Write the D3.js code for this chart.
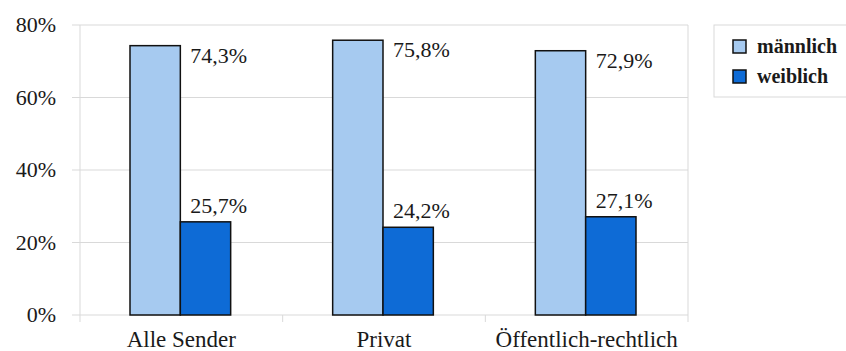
<!DOCTYPE html>
<html>
<head>
<meta charset="utf-8">
<script src="https://cdn.jsdelivr.net/npm/d3@7"></script>
<style>
  body { margin: 0; background: #fff; }
  svg { display: block; font-family: "Liberation Serif", "Times New Roman", serif; }
</style>
</head>
<body>
<svg id="chart" width="846" height="351"></svg>
<script>
// chart data
const categories = ["Alle Sender", "Privat", "Öffentlich-rechtlich"];
const series = ["männlich", "weiblich"];
const maleValues = [74.3, 75.8, 72.9];
const femaleValues = [25.7, 24.2, 27.1];
const yTicks = [0, 20, 40, 60, 80];
const colors = ["#a6caf0", "#0e6bd6"];

const svg = d3.select("#chart");
const margin = { top: 25, left: 80, right: 158, bottom: 36 };
const width = 846 - margin.left - margin.right;
const height = 351 - margin.top - margin.bottom;

const g = svg.append("g").attr("transform", `translate(${margin.left},${margin.top})`);

const x0 = d3.scaleBand().domain(categories).range([0, width]);
const x1 = d3.scaleBand().domain(series).range([50, x0.bandwidth() - 52]);
const y = d3.scaleLinear().domain([0, 80]).range([height, 0]);

// grid lines
g.append("g")
    .selectAll("line")
    .data(yTicks)
    .join("line")
    .attr("x1", -8)
    .attr("x2", width)
    .attr("y1", (d) => y(d))
    .attr("y2", (d) => y(d))
    .attr("stroke", "#d9d9d9")
    .attr("stroke-width", 1);

// vertical frame lines
g.append("line").attr("x1", 0).attr("x2", 0).attr("y1", 0).attr("y2", height).attr("stroke", "#d9d9d9");
g.append("line").attr("x1", width).attr("x2", width).attr("y1", 0).attr("y2", height + 7).attr("stroke", "#d9d9d9");

// category ticks
g.append("g")
    .selectAll("line")
    .data(categories)
    .join("line")
    .attr("x1", (d) => x0(d))
    .attr("x2", (d) => x0(d))
    .attr("y1", height)
    .attr("y2", height + 7)
    .attr("stroke", "#d9d9d9");

// y tick labels
g.append("g")
    .selectAll("text")
    .data(yTicks)
    .join("text")
    .attr("x", -24)
    .attr("y", (d) => y(d))
    .attr("dy", "0.33em")
    .attr("text-anchor", "end")
    .attr("font-size", 22)
    .attr("fill", "#1a1a1a")
    .text((d) => d + "%");

// category labels
g.append("g")
    .selectAll("text")
    .data(categories)
    .join("text")
    .attr("x", (d) => x0(d) + x0.bandwidth() / 2)
    .attr("y", height + 32)
    .attr("text-anchor", "middle")
    .attr("font-size", 23)
    .attr("fill", "#1a1a1a")
    .text((d) => d);

const rows = categories.map((c, i) => ({ cat: c, vals: [maleValues[i], femaleValues[i]] }));

const groups = g.append("g")
    .selectAll("g")
    .data(rows)
    .join("g")
    .attr("transform", (d) => `translate(${x0(d.cat)},0)`);

groups.selectAll("rect")
    .data((d) => d.vals.map((v, k) => ({ key: series[k], v, k })))
    .join("rect")
    .attr("x", (d) => x1(d.key))
    .attr("y", (d) => y(d.v))
    .attr("width", x1.bandwidth())
    .attr("height", (d) => height - y(d.v))
    .attr("fill", (d) => colors[d.k])
    .attr("stroke", "#111")
    .attr("stroke-width", 1.5);

const fmt = (v) => v.toFixed(1).replace(".", ",") + "%";

groups.selectAll("text.val")
    .data((d) => d.vals.map((v, k) => ({ key: series[k], v, k })))
    .join("text")
    .attr("class", "val")
    .attr("x", (d) => d.k === 0 ? x1(d.key) + x1.bandwidth() + 10 : x1(d.key) + 10)
    .attr("y", (d) => d.k === 0 ? y(d.v) + 17 : y(d.v) - 9)
    .attr("font-size", 22)
    .attr("fill", "#1a1a1a")
    .text((d) => fmt(d.v));

// legend
const legend = svg.append("g").attr("transform", "translate(714,25)");
legend.append("rect")
    .attr("width", 140)
    .attr("height", 72)
    .attr("fill", "#fff")
    .attr("stroke", "#d9d9d9");
series.forEach((s, i) => {
    const row = legend.append("g").attr("transform", `translate(19,${15 + i * 30})`);
    row.append("rect")
        .attr("width", 13)
        .attr("height", 13)
        .attr("fill", colors[i])
        .attr("stroke", "#111")
        .attr("stroke-width", 1.5);
    row.append("text")
        .attr("x", 24)
        .attr("y", 13)
        .attr("font-size", 20)
        .attr("font-weight", "bold")
        .attr("fill", "#1a1a1a")
        .text(s);
});
</script>
</body>
</html>
